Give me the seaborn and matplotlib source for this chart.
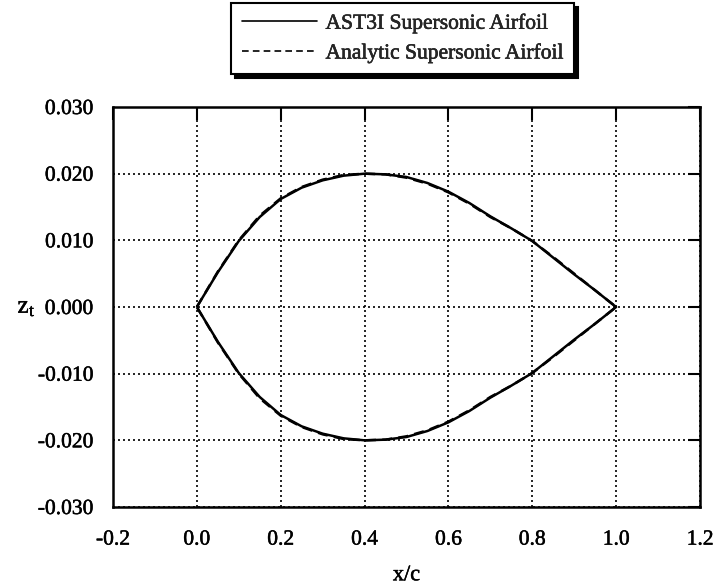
import matplotlib
matplotlib.use("Agg")
import matplotlib.pyplot as plt
import matplotlib.patheffects as pe
import seaborn as sns
import pandas as pd

# Chordwise stations and upper-surface thickness ordinates (lower surface mirrors them)
x_c = [0.00, 0.05, 0.10, 0.15, 0.20, 0.25, 0.30, 0.35, 0.40, 0.45, 0.50,
       0.55, 0.60, 0.65, 0.70, 0.75, 0.80, 0.85, 0.90, 0.95, 1.00]
z_ast3i = [0.0000, 0.0052, 0.0099, 0.0135, 0.0162, 0.0179, 0.0190, 0.0197, 0.0200, 0.0199, 0.0195,
           0.0186, 0.0173, 0.0156, 0.0136, 0.0118, 0.0099, 0.0074, 0.0049, 0.0025, 0.0000]
z_analytic = [0.0000, 0.0053, 0.0100, 0.0137, 0.0163, 0.0180, 0.0191, 0.0198, 0.0200, 0.0199, 0.0194,
              0.0185, 0.0172, 0.0155, 0.0135, 0.0118, 0.0099, 0.0075, 0.0050, 0.0025, 0.0000]

series_names = ["AST3I Supersonic Airfoil", "Analytic Supersonic Airfoil"]
x_ticks = [-0.2, 0.0, 0.2, 0.4, 0.6, 0.8, 1.0, 1.2]
y_ticks = [-0.030, -0.020, -0.010, 0.000, 0.010, 0.020, 0.030]


def closed_contour(xs, zs, name):
    # upper surface leading to trailing edge, then lower surface back to the nose
    xx = list(xs) + list(xs[::-1])
    zz = list(zs) + [-v for v in zs[::-1]]
    return pd.DataFrame({"x/c": xx, "z_t": zz, "series": name})


df = pd.concat([closed_contour(x_c, z_ast3i, series_names[0]),
                closed_contour(x_c, z_analytic, series_names[1])], ignore_index=True)

sns.set_theme(style="white")
plt.rcParams["font.family"] = ["Liberation Serif", "DejaVu Serif"]
plt.rcParams["mathtext.fontset"] = "stix"

fig = plt.figure(figsize=(7.15, 5.87), dpi=100)
ax = fig.add_axes([0.158, 0.1363, 0.821, 0.6814])

sns.lineplot(data=df, x="x/c", y="z_t", hue="series", style="series",
             palette=["black", "black"], dashes=[(1, 0), (4, 2.5)],
             sort=False, estimator=None, units="series", ax=ax, linewidth=1.8,
             legend=False)

ax.set_xlim(-0.2, 1.2)
ax.set_ylim(-0.030, 0.030)
ax.set_xticks(x_ticks)
ax.set_yticks(y_ticks)
ax.set_xticklabels([f"{v:.1f}" for v in x_ticks])
ax.set_yticklabels([f"{v:.3f}" for v in y_ticks])
ax.grid(True, color="black", linestyle=(0, (1.2, 1.8)), linewidth=1.2)
ax.tick_params(direction="in", length=9, width=1.5, top=True, right=True,
               labelsize=15.5, colors="black")
ax.tick_params(axis="x", pad=17)
ax.tick_params(axis="y", pad=14)
for s in ax.spines.values():
    s.set_color("black")
    s.set_linewidth(1.8)

ax.set_xlabel("x/c", fontsize=16, labelpad=12, color="black")
ax.set_ylabel(r"z$_\mathregular{t}$", fontsize=18, rotation=0, labelpad=8,
              color="black", va="center")

handles = [plt.Line2D([], [], color="black", lw=1.2, linestyle="-"),
           plt.Line2D([], [], color="black", lw=1.2, linestyle=(0, (4, 2.5)))]
leg = fig.legend(handles, series_names, loc="upper center",
                 bbox_to_anchor=(0.563, 0.995), fontsize=15.5, frameon=True,
                 fancybox=False,
                 shadow={"color": "black", "alpha": 1, "ox": 3, "oy": -3},
                 handlelength=3.5, handletextpad=0.4, borderpad=0.5,
                 labelspacing=0.45, borderaxespad=0)
leg.get_frame().set_edgecolor("black")
leg.get_frame().set_linewidth(1.5)

# slightly heavier strokes on all lettering
heavy = [pe.withStroke(linewidth=0.35, foreground="black")]
texts = (ax.get_xticklabels() + ax.get_yticklabels()
         + [ax.xaxis.label, ax.yaxis.label] + leg.get_texts())
for t in texts:
    t.set_path_effects(heavy)

fig.savefig("out.png", dpi=100, facecolor="white")
